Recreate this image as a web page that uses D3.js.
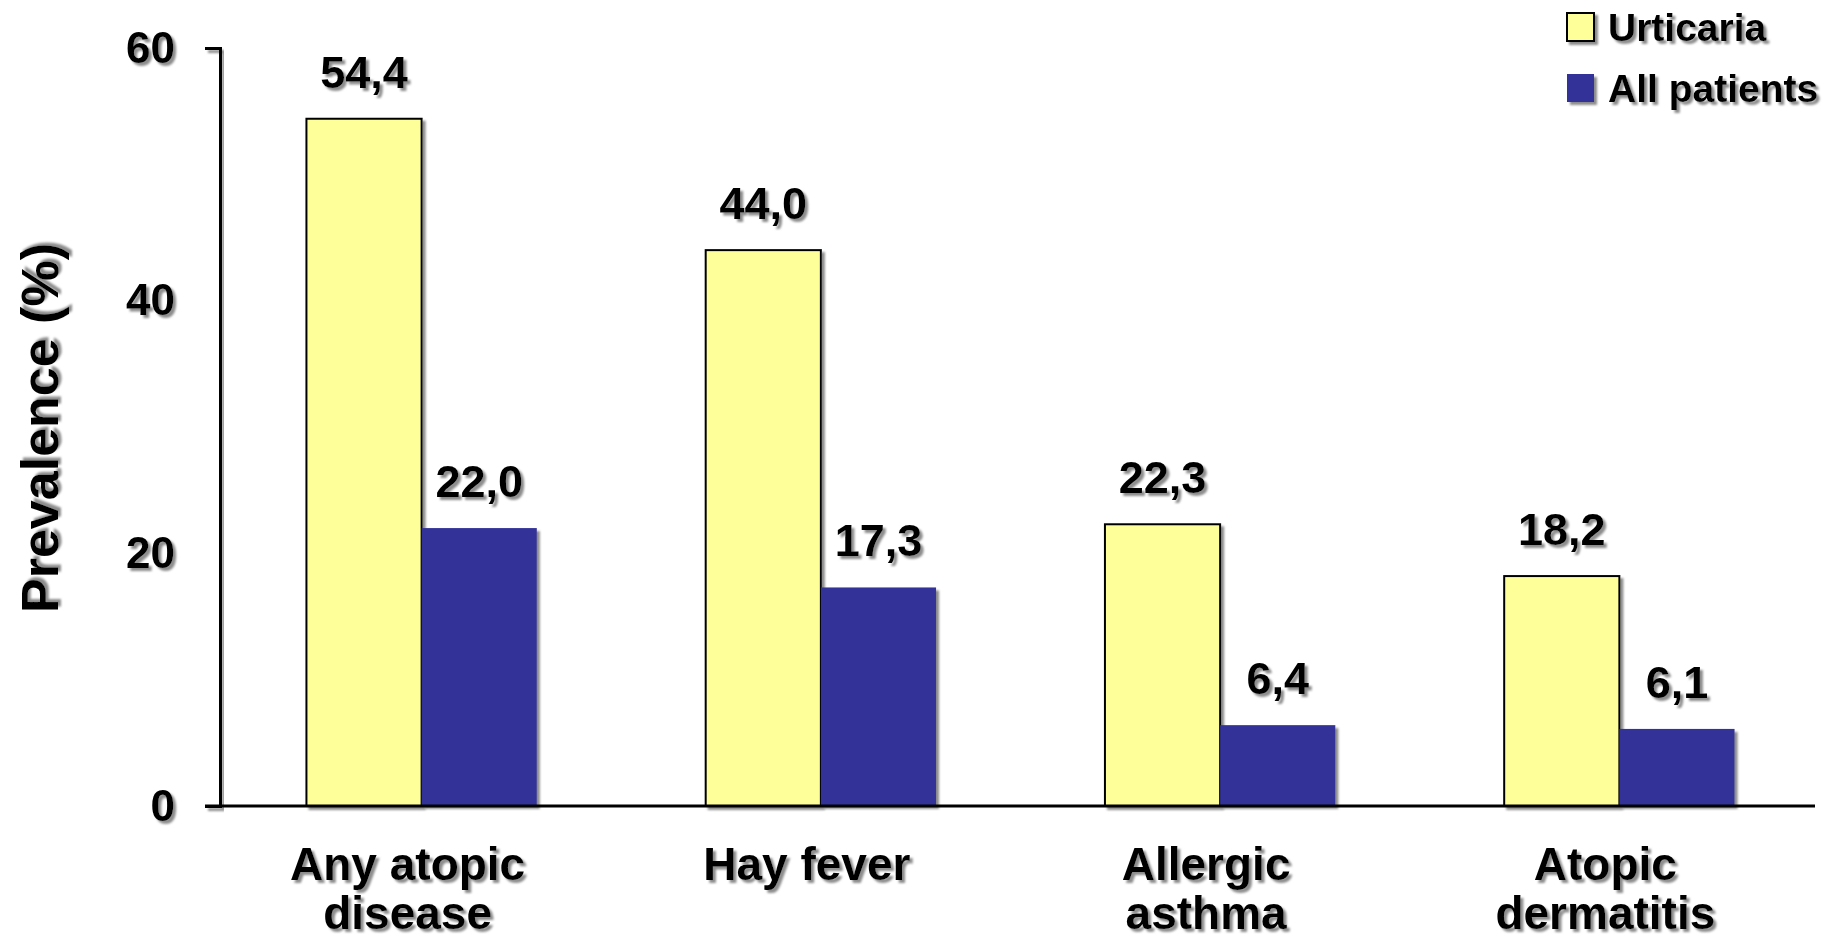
<!DOCTYPE html>
<html>
<head>
<meta charset="utf-8">
<script src="https://cdn.jsdelivr.net/npm/d3@7"></script>
<style>
  html, body { margin: 0; padding: 0; background: #fff; }
  svg { display: block; }
  text { font-family: "Liberation Sans", Arial, sans-serif; font-weight: bold; fill: #000; }
</style>
</head>
<body>
<svg id="chart" width="1832" height="939"></svg>
<script>
const categories = [["Any atopic", "disease"], ["Hay fever"], ["Allergic", "asthma"], ["Atopic", "dermatitis"]];
const categoryKeys = ["Any atopic disease", "Hay fever", "Allergic asthma", "Atopic dermatitis"];
const seriesNames = ["Urticaria", "All patients"];
const urticaria = [54.4, 44.0, 22.3, 18.2];
const allPatients = [22.0, 17.3, 6.4, 6.1];
const yTicks = [0, 20, 40, 60];
const colors = ["#FFFF99", "#333399"];

const seriesValues = [urticaria, allPatients];
const svg = d3.select("#chart");

const defs = svg.append("defs");
const f = defs.append("filter").attr("id", "shadow")
  .attr("x", "-20%").attr("y", "-20%").attr("width", "140%").attr("height", "140%");
f.append("feDropShadow").attr("dx", 3).attr("dy", 3).attr("stdDeviation", 0.8)
  .attr("flood-color", "#808080").attr("flood-opacity", 0.9);

const y = d3.scaleLinear().domain([0, 60]).range([806, 48]);
const x0 = d3.scaleBand().domain(categoryKeys).range([222, 1819])
  .paddingInner(0.423).paddingOuter(0.2115);
const x1 = d3.scaleBand().domain(seriesNames).range([0, x0.bandwidth()]);

const fmt = d3.formatLocale({decimal: ",", thousands: ".", grouping: [3], currency: ["", ""]}).format(".1f");

// x baseline
svg.append("line")
  .attr("x1", 205).attr("x2", 1815).attr("y1", y(0)).attr("y2", y(0))
  .attr("stroke", "#000").attr("stroke-width", 3).attr("filter", "url(#shadow)");

// y axis
const yAxis = svg.append("g").attr("transform", "translate(220,0)")
  .call(d3.axisLeft(y).tickValues(yTicks).tickSize(15).tickSizeOuter(15).tickPadding(30).tickFormat(d3.format("d")));
yAxis.select(".domain").attr("stroke", "#000").attr("stroke-width", 3).attr("filter", "url(#shadow)");
yAxis.selectAll(".tick line").attr("stroke", "#000").attr("stroke-width", 3).attr("filter", "url(#shadow)");
yAxis.selectAll(".tick text")
  .attr("font-size", 44).attr("font-family", "\"Liberation Sans\", Arial, sans-serif")
  .attr("font-weight", "bold").attr("fill", "#000").attr("filter", "url(#shadow)");

// bars
const groups = svg.append("g").selectAll("g").data(categoryKeys).join("g")
  .attr("transform", d => `translate(${x0(d)},0)`);

groups.each(function(cat, ci) {
  const g = d3.select(this);
  seriesNames.forEach((s, si) => {
    const v = seriesValues[si][ci];
    g.append("rect")
      .attr("x", x1(s)).attr("width", x1.bandwidth())
      .attr("y", y(v)).attr("height", y(0) - y(v))
      .attr("fill", colors[si])
      .attr("stroke", si === 0 ? "#000" : "none")
      .attr("stroke-width", 2)
      .attr("filter", "url(#shadow)");
  });
  seriesNames.forEach((s, si) => {
    const v = seriesValues[si][ci];
    g.append("text")
      .attr("x", x1(s) + x1.bandwidth() / 2)
      .attr("y", y(v) - 31)
      .attr("text-anchor", "middle")
      .attr("font-size", 45)
      .attr("filter", "url(#shadow)")
      .text(fmt(v));
  });
});

// redraw baseline above bars
svg.append("line")
  .attr("x1", 205).attr("x2", 1815).attr("y1", y(0)).attr("y2", y(0))
  .attr("stroke", "#000").attr("stroke-width", 3);

// category labels
categoryKeys.forEach((k, i) => {
  const cx = x0(k) + x0.bandwidth() / 2 - 14;
  const t = svg.append("text")
    .attr("x", cx)
    .attr("y", 880)
    .attr("text-anchor", "middle")
    .attr("font-size", 46)
    .attr("filter", "url(#shadow)");
  categories[i].forEach((line, li) => {
    t.append("tspan").attr("x", cx)
      .attr("dy", li === 0 ? 0 : 49).text(line);
  });
});

// y axis title
svg.append("text")
  .attr("transform", "translate(58,428) rotate(-90)")
  .attr("text-anchor", "middle")
  .attr("font-size", 52)
  .attr("filter", "url(#shadow)")
  .text("Prevalence (%)");

// legend
const legendY = [13, 74];
const legend = svg.append("g");
seriesNames.forEach((s, i) => {
  legend.append("rect")
    .attr("x", 1567).attr("y", legendY[i]).attr("width", 27).attr("height", 28)
    .attr("fill", colors[i])
    .attr("stroke", i === 0 ? "#000" : "none").attr("stroke-width", 2)
    .attr("filter", "url(#shadow)");
  legend.append("text")
    .attr("x", 1608).attr("y", legendY[i] + 28)
    .attr("font-size", 39)
    .attr("filter", "url(#shadow)")
    .text(s);
});
</script>
</body>
</html>
